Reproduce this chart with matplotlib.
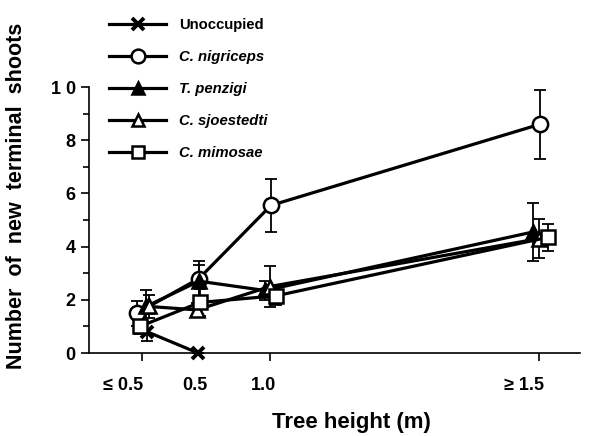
import numpy as np
import matplotlib
matplotlib.use('Agg')
import matplotlib.pyplot as plt
from matplotlib.transforms import ScaledTranslation

# ==== Data ====
height_labels = ['\u2264 0.5', '0.5', '1.0', '\u2265 1.5']

series_names = ['Unoccupied', 'C. nigriceps', 'T. penzigi',
                'C. sjoestedti', 'C. mimosae']

unocc_mean = [0.8, 0.0]
unocc_err = [0.35, 0.0]

nigri_mean = [1.5, 2.8, 5.55, 8.6]
nigri_err = [0.47, 0.65, 1.0, 1.3]

penz_mean = [1.75, 2.7, 2.35, 4.55]
penz_err = [0.6, 0.6, 0.36, 1.1]

sjoe_mean = [1.75, 1.62, 2.5, 4.3]
sjoe_err = [0.42, 0.27, 0.76, 0.73]

mimo_mean = [1.0, 1.9, 2.15, 4.35]
mimo_err = [0.3, 0.5, 0.35, 0.5]

# ==== Layout (pixel-like x units) ====
cat_pos = np.array([142, 199, 270, 539])
offsets = {
    'Unoccupied': [5, -1],
    'C. nigriceps': [-5, 0, 1, 1],
    'T. penzigi': [4, 0, -5, -6],
    'C. sjoestedti': [7, -2, 0, 0],
    'C. mimosae': [-2, 1, 6, 9],
}

plt.rcParams.update({'font.family': 'Liberation Sans',
                     'font.weight': 'bold',
                     'axes.labelweight': 'bold'})

fig = plt.figure(figsize=(5.92, 4.36), dpi=100)
ax = fig.add_axes([89/592, 1 - 353/436, (580 - 89)/592, (353 - 87)/436])

styles = {
    'Unoccupied': dict(marker='x', ms=9, mew=2.8, mfc='black'),
    'C. nigriceps': dict(marker='o', ms=11, mew=1.8, mfc='white'),
    'T. penzigi': dict(marker='^', ms=10, mew=1.8, mfc='black'),
    'C. sjoestedti': dict(marker='^', ms=10, mew=1.8, mfc='white'),
    'C. mimosae': dict(marker='s', ms=10, mew=1.8, mfc='white'),
}
means = [unocc_mean, nigri_mean, penz_mean, sjoe_mean, mimo_mean]
errs = [unocc_err, nigri_err, penz_err, sjoe_err, mimo_err]

handles = []
for name, m, e in zip(series_names, means, errs):
    x = cat_pos[:len(m)] + np.array(offsets[name])
    ax.errorbar(x, m, yerr=e, fmt='none', ecolor='black',
                elinewidth=1.3, capsize=4.5, capthick=1.3, zorder=2)
    h, = ax.plot(x, m, color='black', lw=2.3, mec='black', zorder=3,
                 clip_on=False, **styles[name])
    handles.append(h)

ax.set_xlim(89, 580)
ax.set_ylim(0, 10)
for sp in ['top', 'right']:
    ax.spines[sp].set_visible(False)
ax.spines['left'].set_linewidth(1.2)
ax.spines['bottom'].set_linewidth(1.2)

ax.set_yticks(np.arange(0, 11, 2))
ax.set_yticks(np.arange(1, 10, 2), minor=True)
ax.set_yticklabels(['0', '2', '4', '6', '8', '1 0'], fontsize=13)
ax.tick_params(axis='y', which='major', length=6, width=1.2, pad=3.5)
ax.tick_params(axis='y', which='minor', length=4, width=1.2)

ax.set_xticks(cat_pos)
ax.set_xticklabels(height_labels, fontsize=13)
ax.tick_params(axis='x', length=6, width=1.2, pad=11)
ax.xaxis.get_major_ticks()[1].tick1line.set_visible(False)
label_shift = [-19, -4, -6, -15]
for lab, dx in zip(ax.get_xticklabels(), label_shift):
    lab.set_transform(lab.get_transform() +
                      ScaledTranslation(dx/100, 0, fig.dpi_scale_trans))

ax.set_xlabel('Tree height (m)', fontsize=16)
ax.xaxis.set_label_coords(0.534, -0.222)
ax.set_ylabel('Number  of  new  terminal  shoots', fontsize=15.5)
ax.yaxis.set_label_coords(-0.126, 0.59)

leg = fig.legend(handles, series_names, loc='upper left',
                 bbox_to_anchor=(96/592, 1 - 5/436), frameon=False,
                 fontsize=10.7, handlelength=3.8, labelspacing=1.2,
                 handletextpad=0.9, markerscale=0.9)
for txt, n in zip(leg.get_texts(), series_names):
    if n != 'Unoccupied':
        txt.set_style('italic')

fig.savefig('out.png', dpi=100)
